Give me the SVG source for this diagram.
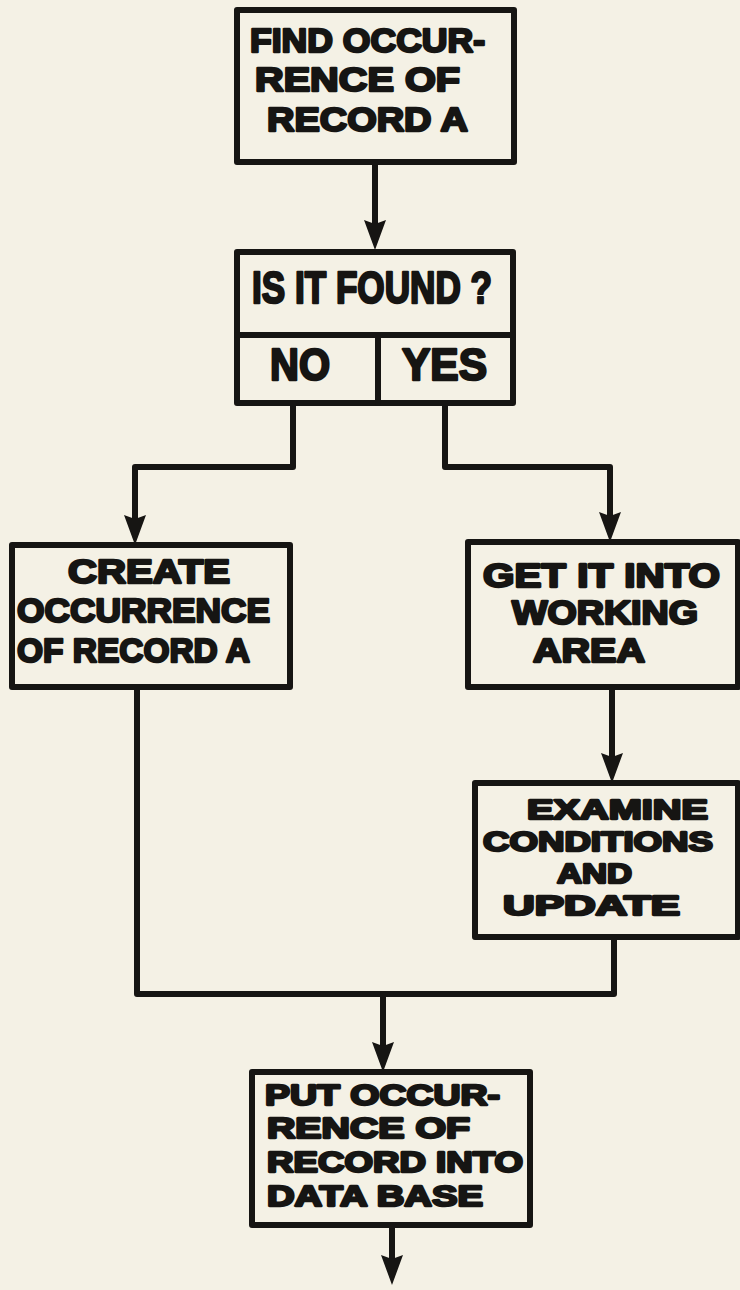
<svg xmlns="http://www.w3.org/2000/svg" width="740" height="1290" viewBox="0 0 740 1290">
<defs>
<style>
.box{fill:none;stroke:#161513;stroke-width:6;stroke-linejoin:round}
.ln{fill:none;stroke:#161513;stroke-width:6;stroke-linejoin:round;stroke-linecap:round}
.t{font-family:"Liberation Sans","DejaVu Sans",sans-serif;font-weight:bold;fill:#161513;stroke:#161513;stroke-width:2.4;stroke-linejoin:round}
.a{font-size:34px}
.b{font-size:44px}
.c{font-size:33px}
.d{font-size:28px}
.e{font-size:29px}
</style>
<marker id="ah" viewBox="0 0 30 24" markerWidth="30" markerHeight="24" refX="20" refY="12" orient="auto" markerUnits="userSpaceOnUse">
<path d="M0,1 L30,12 L0,23 L4,12 Z" fill="#161513"/>
</marker>
</defs>
<rect width="740" height="1290" fill="#f4f1e5"/>
<g id="connectors">
<path class="ln" d="M375,163 L375,240" marker-end="url(#ah)"/>
<path class="ln" d="M293,403 L293,467 L135,467 L135,535" marker-end="url(#ah)"/>
<path class="ln" d="M445,403 L445,467 L610,467 L610,532" marker-end="url(#ah)"/>
<path class="ln" d="M612,687 L612,773" marker-end="url(#ah)"/>
<path class="ln" d="M137,687 L137,994 L614,994 L614,937"/>
<path class="ln" d="M383,994 L383,1062" marker-end="url(#ah)"/>
<path class="ln" d="M392,1225 L392,1275" marker-end="url(#ah)"/>
</g>
<g id="n1">
<rect class="box" x="237" y="10" width="277" height="152"/>
<text class="t a" x="250" y="52" textLength="235" lengthAdjust="spacingAndGlyphs">FIND OCCUR-</text>
<text class="t a" x="255" y="91" textLength="205" lengthAdjust="spacingAndGlyphs">RENCE OF</text>
<text class="t a" x="267" y="131" textLength="201" lengthAdjust="spacingAndGlyphs">RECORD A</text>
</g>
<g id="n2">
<rect class="box" x="237" y="252" width="276" height="151"/>
<path class="ln" d="M237,335 L513,335 M378,335 L378,403"/>
<text class="t b" x="252" y="303" textLength="240" lengthAdjust="spacingAndGlyphs">IS IT FOUND ?</text>
<text class="t b" x="270" y="380" textLength="60" lengthAdjust="spacingAndGlyphs">NO</text>
<text class="t b" x="402" y="380" textLength="85" lengthAdjust="spacingAndGlyphs">YES</text>
</g>
<g id="n3">
<rect class="box" x="12" y="545" width="278" height="142"/>
<text class="t a" x="68" y="583" textLength="162" lengthAdjust="spacingAndGlyphs">CREATE</text>
<text class="t a" x="17" y="622" textLength="253" lengthAdjust="spacingAndGlyphs">OCCURRENCE</text>
<text class="t a" x="17" y="662" textLength="233" lengthAdjust="spacingAndGlyphs">OF RECORD A</text>
</g>
<g id="n4">
<rect class="box" x="468" y="542" width="270" height="145"/>
<text class="t c" x="483" y="587" textLength="237" lengthAdjust="spacingAndGlyphs">GET IT INTO</text>
<text class="t c" x="512" y="624" textLength="186" lengthAdjust="spacingAndGlyphs">WORKING</text>
<text class="t c" x="533" y="662" textLength="112" lengthAdjust="spacingAndGlyphs">AREA</text>
</g>
<g id="n5">
<rect class="box" x="475" y="783" width="263" height="154"/>
<text class="t d" x="527" y="819" textLength="181" lengthAdjust="spacingAndGlyphs">EXAMINE</text>
<text class="t d" x="483" y="851" textLength="230" lengthAdjust="spacingAndGlyphs">CONDITIONS</text>
<text class="t d" x="557" y="883" textLength="75" lengthAdjust="spacingAndGlyphs">AND</text>
<text class="t d" x="503" y="915" textLength="177" lengthAdjust="spacingAndGlyphs">UPDATE</text>
</g>
<g id="n6">
<rect class="box" x="252" y="1072" width="278" height="153"/>
<text class="t e" x="265" y="1105" textLength="235" lengthAdjust="spacingAndGlyphs">PUT OCCUR-</text>
<text class="t e" x="267" y="1138" textLength="203" lengthAdjust="spacingAndGlyphs">RENCE OF</text>
<text class="t e" x="267" y="1172" textLength="256" lengthAdjust="spacingAndGlyphs">RECORD INTO</text>
<text class="t e" x="267" y="1206" textLength="216" lengthAdjust="spacingAndGlyphs">DATA BASE</text>
</g>
</svg>
